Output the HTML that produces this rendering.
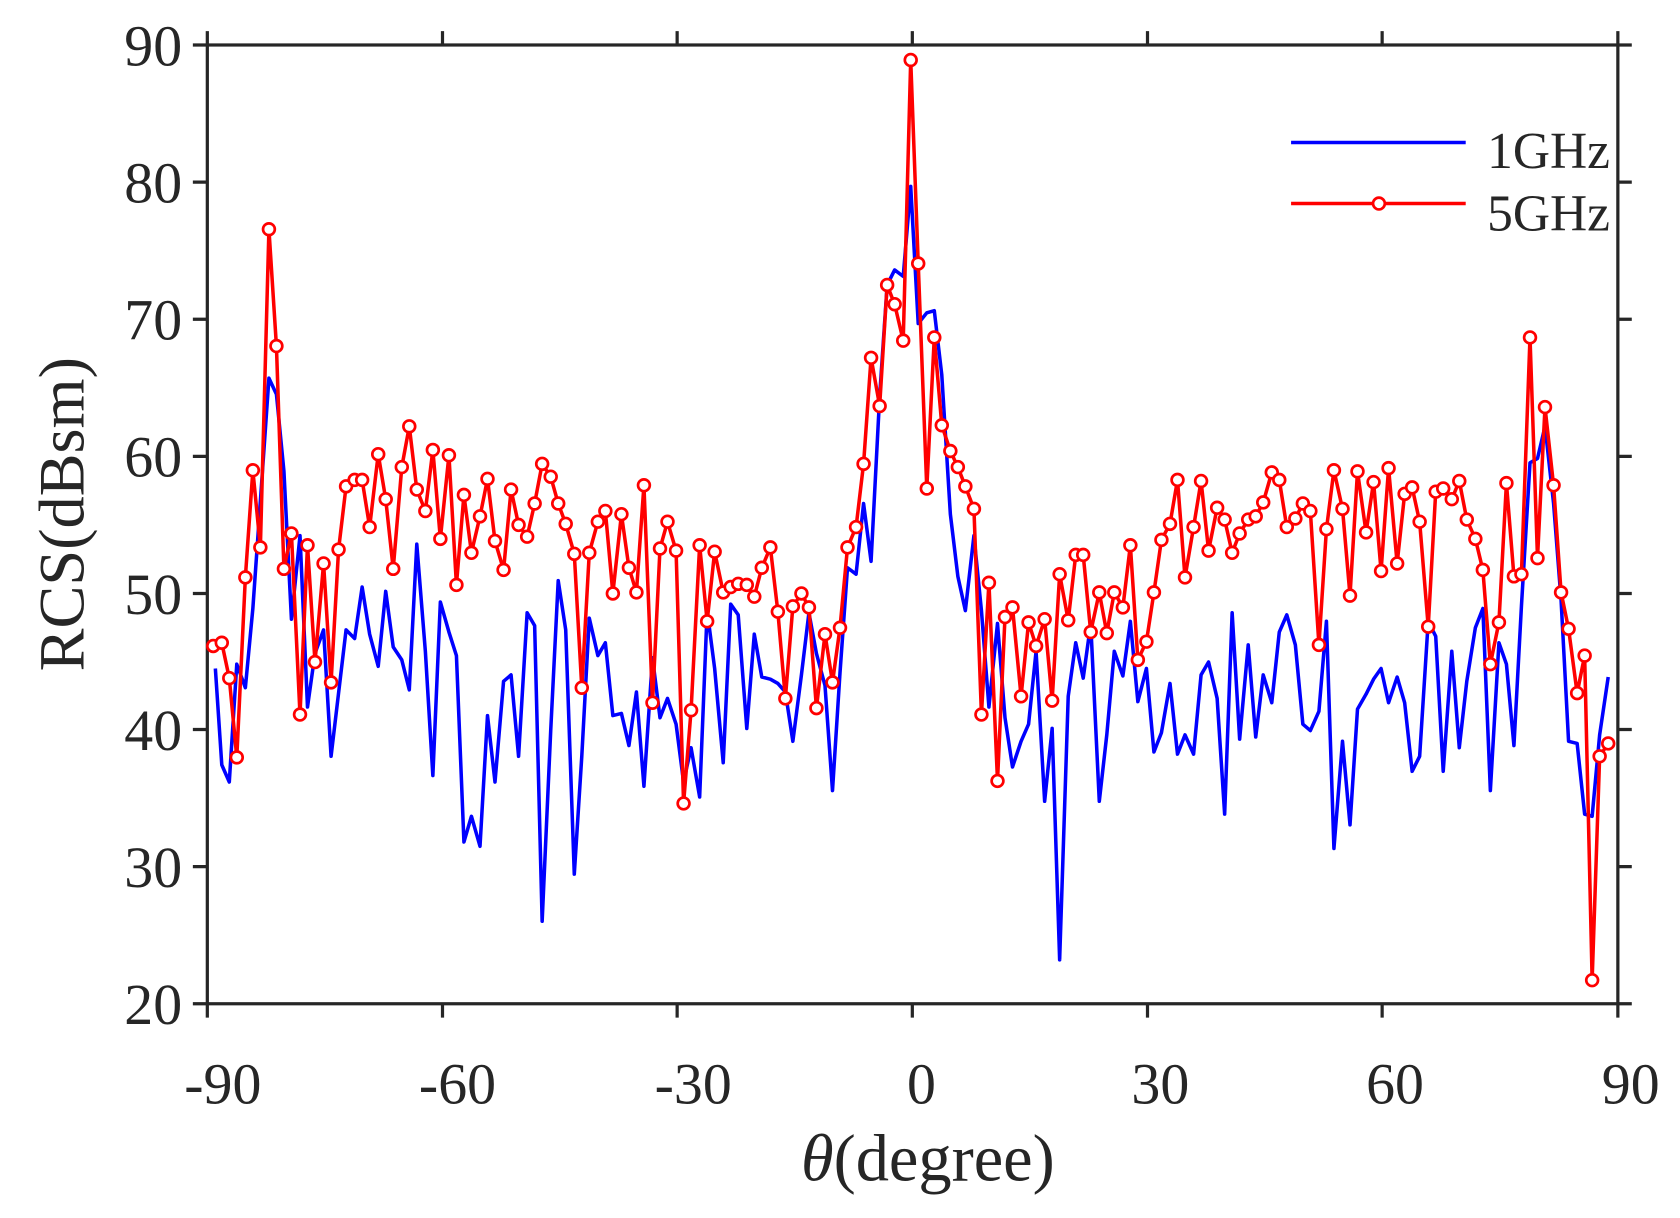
<!DOCTYPE html>
<html><head><style>html,body{margin:0;padding:0;background:#fff}svg{display:block}</style></head><body>
<svg width="1680" height="1218" viewBox="0 0 1568 1137" preserveAspectRatio="none" xmlns="http://www.w3.org/2000/svg">
<defs>
<marker id="c" markerWidth="16" markerHeight="16" refX="8" refY="8" markerUnits="userSpaceOnUse">
<circle cx="8" cy="8" r="5.5" fill="#fff" stroke="#ff0000" stroke-width="2.5"/>
</marker>
</defs>
<rect width="1568" height="1137" fill="#fff"/>
<g font-family="Liberation Serif, serif" fill="#262626" font-size="54">
<g text-anchor="end">
<text x="170" y="61">90</text><text x="170" y="189">80</text><text x="170" y="317">70</text><text x="170" y="445">60</text><text x="170" y="573">50</text><text x="170" y="700">40</text><text x="170" y="828">30</text><text x="170" y="956">20</text>
</g>
<g text-anchor="middle">
<text x="208" y="1030">-90</text><text x="427" y="1030">-60</text><text x="647" y="1030">-30</text><text x="860" y="1030">0</text><text x="1083" y="1030">30</text><text x="1302" y="1030">60</text><text x="1522" y="1030">90</text>
</g>
<text x="866" y="1102" text-anchor="middle" font-size="62"><tspan font-style="italic">θ</tspan>(degree)</text>
<text transform="translate(78,480) rotate(-90)" text-anchor="middle" font-size="60">RCS(dBsm)</text>
<text x="1388" y="157" font-size="48">1GHz</text>
<text x="1388" y="215" font-size="48">5GHz</text>
</g>
<g stroke="#262626" stroke-width="3" fill="none">
<rect x="193.5" y="42" width="1316.5" height="895"/>
<path d="M180 42H193M180 170H193M180 298H193M180 426H193M180 554H193M180 681H193M180 809H193M180 937H193
M1510 42H1523M1510 170H1523M1510 298H1523M1510 426H1523M1510 554H1523M1510 681H1523M1510 809H1523M1510 937H1523
M193.5 937V950M413 937V950M632 937V950M851.5 937V950M1071 937V950M1290 937V950M1510 937V950
M193.5 42V29M413 42V29M632 42V29M851.5 42V29M1071 42V29M1290 42V29M1510 42V29"/>
</g>
<polyline fill="none" stroke="#0000ff" stroke-width="3.3" stroke-linejoin="round" points="201,624 207,714 214,730 221,620 229,642 236,568 243,468 251,353 258,368 265,440 272,578 280,500 287,660 294,610 302,588 309,706 316,647 323,588 331,596 338,548 345,592 353,622 360,552 367,604 375,616 382,644 389,508 397,608 404,724 411,562 419,590 426,612 433,786 440,762 448,790 455,668 462,730 470,636 477,630 484,706 492,572 499,584 506,860 514,682 521,542 528,588 536,816 543,706 550,577 558,612 565,600 572,668 580,666 587,696 594,646 601,734 609,614 616,670 623,652 631,676 638,730 645,698 653,744 660,570 667,624 675,712 682,564 689,574 697,680 704,592 711,632 719,634 726,638 733,646 740,692 748,630 755,572 762,610 770,640 777,738 784,628 791,530 799,536 806,470 813,524 821,370 828,266 835,252 843,258 850,174 857,302 865,292 872,290 879,350 887,480 894,538 901,570 909,500 916,570 923,660 931,582 938,670 945,716 953,692 960,676 967,608 975,748 982,680 989,896 997,650 1004,600 1011,633 1018,582 1026,748 1033,686 1040,608 1048,631 1055,580 1062,655 1070,624 1077,702 1084,684 1092,638 1099,704 1106,686 1114,704 1121,630 1128,618 1136,652 1143,760 1150,572 1157,690 1165,602 1172,688 1179,630 1187,656 1194,590 1201,574 1209,602 1216,676 1223,682 1231,664 1238,580 1245,792 1253,692 1260,770 1267,662 1275,648 1282,634 1289,624 1296,656 1304,632 1311,656 1318,720 1325,706 1333,580 1340,594 1347,720 1355,608 1362,698 1369,636 1377,586 1384,568 1391,738 1399,600 1406,620 1413,696 1420,566 1428,432 1435,428 1442,398 1450,470 1457,560 1464,692 1472,694 1479,760 1486,762 1493,686 1501,632"/>
<polyline fill="none" stroke="#ff0000" stroke-width="3.3" stroke-linejoin="round" marker-start="url(#c)" marker-mid="url(#c)" marker-end="url(#c)" points="199,603 207,600 214,633 221,707 229,539 236,439 243,511 251,214 258,323 265,531 272,498 280,667 287,509 294,618 302,526 309,637 316,513 323,454 331,448 338,448 345,492 353,424 360,466 367,531 375,436 382,398 389,457 397,477 404,420 411,503 419,425 426,546 433,462 440,516 448,482 455,447 462,505 470,532 477,457 484,490 492,501 499,470 506,433 514,445 521,470 528,489 536,517 543,642 550,516 558,487 565,477 572,554 580,480 587,530 594,553 601,453 609,656 616,512 623,487 631,514 638,750 645,663 653,509 660,580 667,515 675,553 682,548 689,545 697,546 704,557 711,530 719,511 726,571 733,652 740,566 748,554 755,567 762,661 770,592 777,637 784,586 791,511 799,492 806,433 813,334 821,379 828,266 835,284 843,318 850,56 857,246 865,456 872,315 879,397 887,421 894,436 901,454 909,475 916,667 923,544 931,729 938,576 945,567 953,650 960,581 967,603 975,578 982,654 989,536 997,579 1004,518 1011,518 1018,590 1026,553 1033,591 1040,553 1048,567 1055,509 1062,616 1070,599 1077,553 1084,504 1092,489 1099,448 1106,539 1114,492 1121,449 1128,514 1136,474 1143,485 1150,516 1157,498 1165,485 1172,482 1179,469 1187,441 1194,448 1201,492 1209,484 1216,470 1223,477 1231,602 1238,494 1245,439 1253,475 1260,556 1267,440 1275,497 1282,450 1289,533 1296,437 1304,526 1311,461 1318,455 1325,487 1333,585 1340,459 1347,456 1355,466 1362,449 1369,485 1377,503 1384,532 1391,620 1399,581 1406,451 1413,538 1420,536 1428,315 1435,521 1442,380 1450,453 1457,553 1464,587 1472,647 1479,612 1486,915 1493,706 1501,694"/>
<line x1="1205" y1="133" x2="1368" y2="133" stroke="#0000ff" stroke-width="3.3"/>
<line x1="1205" y1="190" x2="1368" y2="190" stroke="#ff0000" stroke-width="3.3"/>
<circle cx="1287" cy="190" r="5.5" fill="#fff" stroke="#ff0000" stroke-width="2.5"/>
</svg>
</body></html>
